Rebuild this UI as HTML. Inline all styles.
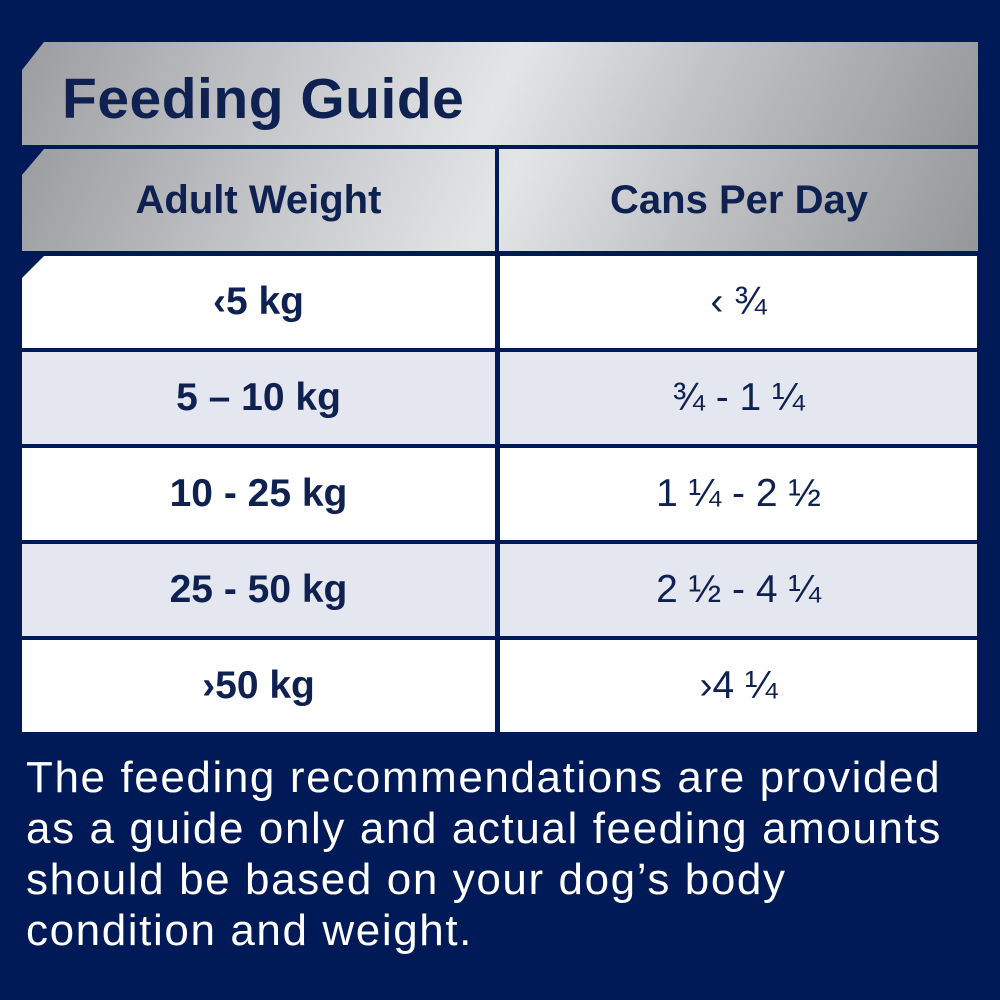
<!DOCTYPE html>
<html><head><style>
body{margin:0;width:1000px;height:1000px;background:#001a57;position:relative;overflow:hidden;font-family:"Liberation Sans",sans-serif}
.a{position:absolute}
.silver{background:linear-gradient(115deg,#9a9ca0 0%,#c8cacd 30%,#e4e5e7 50%,#c0c2c5 70%,#95979b 100%)}
.cell{position:absolute;display:flex;align-items:center;justify-content:center;color:#0e2150;font-weight:bold;font-size:39px}
</style></head><body>
<div class="a silver" style="left:22px;top:42px;width:956px;height:103px;clip-path:polygon(22px 0,100% 0,100% 100%,0 100%,0 28px)"></div>
<div class="a" style="left:62px;top:66px;font-size:57px;font-weight:bold;color:#0e2150;letter-spacing:0.5px">Feeding Guide</div>
<div class="a silver" style="left:22px;top:149px;width:956px;height:102px;clip-path:polygon(22px 0,100% 0,100% 100%,0 100%,0 26px)"></div>
<div class="a" style="left:495px;top:149px;width:4px;height:596px;background:#001a57"></div>
<div class="cell" style="left:22px;top:149px;width:473px;height:102px;font-size:40px">Adult Weight</div>
<div class="cell" style="left:500px;top:149px;width:478px;height:102px;font-size:40px">Cans Per Day</div>

<div class="a" style="left:22px;top:256px;width:473px;height:92px;background:#fff;clip-path:polygon(22px 0,100% 0,100% 100%,0 100%,0 22px)"></div>
<div class="a" style="left:500px;top:256px;width:477px;height:92px;background:#fff"></div>
<div class="a" style="left:22px;top:352px;width:473px;height:92px;background:#e4e7ef"></div>
<div class="a" style="left:500px;top:352px;width:477px;height:92px;background:#e4e7ef"></div>
<div class="a" style="left:22px;top:448px;width:473px;height:92px;background:#fff"></div>
<div class="a" style="left:500px;top:448px;width:477px;height:92px;background:#fff"></div>
<div class="a" style="left:22px;top:544px;width:473px;height:92px;background:#e4e7ef"></div>
<div class="a" style="left:500px;top:544px;width:477px;height:92px;background:#e4e7ef"></div>
<div class="a" style="left:22px;top:640px;width:473px;height:92px;background:#fff"></div>
<div class="a" style="left:500px;top:640px;width:477px;height:92px;background:#fff"></div>

<div class="cell" style="left:22px;top:256px;width:473px;height:92px">‹5 kg</div>
<div class="cell" style="left:500px;top:256px;width:477px;height:92px;font-weight:normal">‹ ¾</div>
<div class="cell" style="left:22px;top:352px;width:473px;height:92px">5 – 10 kg</div>
<div class="cell" style="left:500px;top:352px;width:477px;height:92px;font-weight:normal">¾ - 1 ¼</div>
<div class="cell" style="left:22px;top:448px;width:473px;height:92px">10 - 25 kg</div>
<div class="cell" style="left:500px;top:448px;width:477px;height:92px;font-weight:normal">1 ¼ - 2 ½</div>
<div class="cell" style="left:22px;top:544px;width:473px;height:92px">25 - 50 kg</div>
<div class="cell" style="left:500px;top:544px;width:477px;height:92px;font-weight:normal">2 ½ - 4 ¼</div>
<div class="cell" style="left:22px;top:640px;width:473px;height:92px">›50 kg</div>
<div class="cell" style="left:500px;top:640px;width:477px;height:92px;font-weight:normal">›4 ¼</div>

<div class="a" style="left:26px;top:752px;width:980px;color:#fff;font-size:44px;line-height:51px;letter-spacing:1.6px;white-space:nowrap">The feeding recommendations are provided<br>as a guide only and actual feeding amounts<br>should be based on your dog’s body<br>condition and weight.</div>
</body></html>
